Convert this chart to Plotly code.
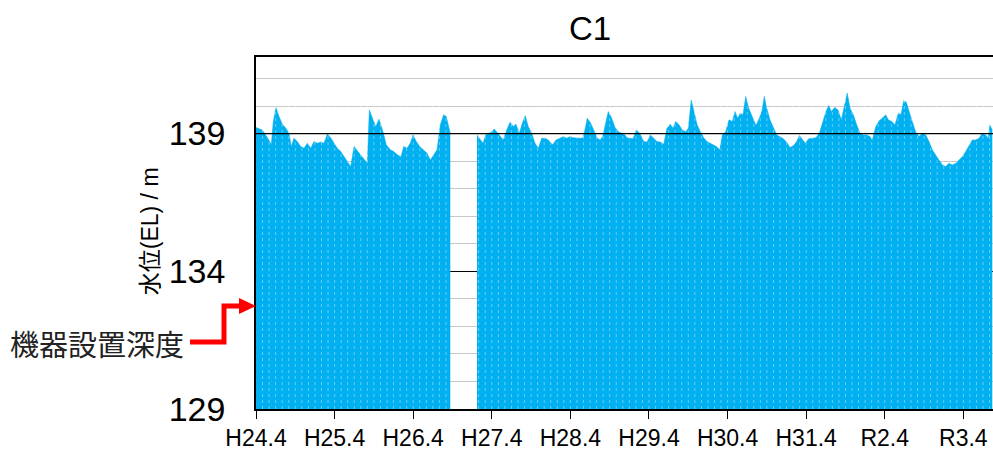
import plotly.graph_objects as go

# ---- data (decimal year, water level EL m) ----
seg1_t = [2012.250, 2012.288, 2012.330, 2012.373, 2012.415, 2012.445, 2012.470, 2012.504, 2012.543, 2012.585,
          2012.628, 2012.670, 2012.699, 2012.733, 2012.775, 2012.819, 2012.861, 2012.903, 2012.946, 2012.988,
          2013.030, 2013.073, 2013.115, 2013.157, 2013.200, 2013.242, 2013.284, 2013.328, 2013.370, 2013.412,
          2013.455, 2013.497, 2013.539, 2013.582, 2013.624, 2013.666, 2013.692, 2013.730, 2013.773, 2013.815,
          2013.866, 2013.908, 2013.959, 2014.002, 2014.053, 2014.095, 2014.129, 2014.171, 2014.213, 2014.248,
          2014.290, 2014.333, 2014.384, 2014.426, 2014.468, 2014.511, 2014.553, 2014.595, 2014.638, 2014.671,
          2014.702, 2014.722]
seg1_v = [139.22, 139.19, 139.13, 138.95, 138.73, 138.61, 139.44, 139.95, 139.62, 139.34,
          139.20, 139.01, 138.53, 138.83, 138.71, 138.53, 138.47, 138.65, 138.47, 138.71,
          138.65, 138.69, 138.65, 138.98, 138.85, 138.65, 138.47, 138.35, 138.16, 137.96,
          137.80, 138.53, 138.37, 138.22, 138.08, 137.92, 139.86, 139.56, 139.25, 139.52,
          139.07, 138.59, 138.41, 138.35, 138.22, 138.16, 138.53, 138.47, 138.65, 138.95,
          138.71, 138.53, 138.41, 138.29, 138.04, 138.22, 138.41, 139.32, 139.68, 139.62,
          139.19, 139.01]

seg2_t = [2015.062, 2015.104, 2015.138, 2015.172, 2015.211, 2015.253, 2015.282, 2015.325, 2015.367, 2015.396,
          2015.440, 2015.482, 2015.524, 2015.558, 2015.600, 2015.634, 2015.676, 2015.714, 2015.758, 2015.800,
          2015.842, 2015.885, 2015.927, 2015.969, 2016.025, 2016.067, 2016.118, 2016.160, 2016.203, 2016.245,
          2016.287, 2016.330, 2016.372, 2016.414, 2016.465, 2016.508, 2016.550, 2016.592, 2016.627, 2016.661,
          2016.703, 2016.732, 2016.776, 2016.818, 2016.860, 2016.903, 2016.945, 2016.970, 2017.012, 2017.047,
          2017.089, 2017.132, 2017.183, 2017.225, 2017.267, 2017.310, 2017.352, 2017.394, 2017.437, 2017.479,
          2017.521, 2017.555, 2017.590, 2017.632, 2017.674, 2017.717, 2017.750, 2017.788, 2017.819, 2017.861,
          2017.903, 2017.946, 2017.988, 2018.030, 2018.064, 2018.107, 2018.150, 2018.183, 2018.226, 2018.268,
          2018.310, 2018.344, 2018.379, 2018.412, 2018.446, 2018.481, 2018.519, 2018.561, 2018.612, 2018.654,
          2018.688, 2018.717, 2018.748, 2018.790, 2018.832, 2018.875, 2018.917, 2018.959, 2019.002, 2019.044,
          2019.086, 2019.129, 2019.163, 2019.197, 2019.239, 2019.282, 2019.324, 2019.375, 2019.417, 2019.460,
          2019.502, 2019.537, 2019.570, 2019.613, 2019.655, 2019.697, 2019.740, 2019.773, 2019.808, 2019.850,
          2019.893, 2019.935, 2019.977, 2020.020, 2020.062, 2020.091, 2020.135, 2020.177, 2020.218, 2020.262,
          2020.295, 2020.338, 2020.380, 2020.422, 2020.456, 2020.491, 2020.524, 2020.558, 2020.600, 2020.643,
          2020.685, 2020.728, 2020.771, 2020.813, 2020.855, 2020.898, 2020.940, 2020.982, 2021.025, 2021.067,
          2021.109, 2021.152, 2021.194, 2021.236, 2021.280, 2021.322, 2021.364, 2021.407, 2021.449, 2021.491,
          2021.534, 2021.567, 2021.585, 2021.618]
seg2_v = [138.95, 138.77, 138.65, 138.95, 139.01, 139.07, 139.17, 139.01, 138.89, 138.77,
          139.13, 139.41, 139.26, 139.34, 139.01, 139.34, 139.65, 139.26, 139.01, 138.65,
          138.47, 138.83, 138.83, 138.77, 138.59, 138.77, 138.83, 138.89, 138.83, 138.89,
          138.85, 138.83, 138.83, 138.85, 139.56, 139.38, 139.07, 138.83, 138.77, 138.89,
          139.44, 139.80, 139.56, 139.22, 139.07, 139.01, 138.95, 138.85, 138.83, 138.81,
          139.13, 139.01, 138.71, 138.69, 138.95, 138.83, 138.71, 138.69, 138.61, 139.19,
          139.34, 139.19, 139.44, 139.32, 139.13, 139.07, 139.19, 140.22, 139.80, 139.34,
          139.07, 138.85, 138.71, 138.65, 138.59, 138.53, 138.41, 138.95, 139.07, 139.50,
          139.44, 139.80, 139.56, 139.74, 139.68, 140.35, 139.92, 139.62, 139.29, 139.56,
          139.83, 140.35, 139.92, 139.50, 139.25, 138.95, 138.89, 138.81, 138.69, 138.49,
          138.56, 138.71, 138.93, 138.81, 138.65, 138.81, 138.83, 138.85, 139.01, 139.44,
          139.80, 140.02, 139.80, 139.95, 139.86, 139.50, 140.04, 140.47, 139.92, 139.68,
          139.32, 139.01, 138.95, 138.95, 138.89, 138.77, 139.25, 139.46, 139.56, 139.68,
          139.50, 139.44, 139.32, 139.74, 139.68, 140.19, 140.14, 139.80, 139.44, 139.07,
          138.89, 139.01, 138.95, 138.71, 138.41, 138.22, 138.04, 137.86, 137.80, 137.92,
          137.86, 137.92, 138.04, 138.16, 138.35, 138.59, 138.77, 138.77, 138.83, 139.01,
          138.95, 138.83, 139.32, 139.13]

tick_vals = [2012.25, 2013.25, 2014.25, 2015.25, 2016.25, 2017.25, 2018.25, 2019.25, 2020.25, 2021.25]
tick_text = ["H24.4", "H25.4", "H26.4", "H27.4", "H28.4", "H29.4", "H30.4", "H31.4", "R2.4", "R3.4"]
y_ticks = [129, 134, 139]
ref_level = 139

X_RANGE = [2012.25, 2021.627]
Y_RANGE = [129, 141.78]

W, H = 993, 450
ML, MR, MT, MB = 256, 0, 57, 41
PW, PH = W - ML - MR, H - MT - MB

def px(xp):
    return (xp - ML) / PW

def py(yp):
    return (H - MB - yp) / PH

BLUE = "#00B0F0"

fig = go.Figure()
for ts, vs in ((seg1_t, seg1_v), (seg2_t, seg2_v)):
    fig.add_trace(go.Scatter(x=ts, y=vs, mode="lines", fill="tozeroy", fillcolor=BLUE,
                             line=dict(color=BLUE, width=0.5),
                             hoverinfo="skip", showlegend=False))

# faint monthly stripes over the filled area (white: invisible on the white background)
sx, sy = [], []
k = 1
while True:
    t = X_RANGE[0] + k / 12.0
    if t >= X_RANGE[1]:
        break
    if (seg1_t[0] < t < seg1_t[-1]) or (seg2_t[0] < t < seg2_t[-1]):
        sx += [t, t, None]
        sy += [Y_RANGE[0], 140.6, None]
    k += 1
fig.add_trace(go.Scatter(x=sx, y=sy, mode="lines",
                         line=dict(color="rgba(255,255,255,0.4)", width=1, dash="dot"),
                         hoverinfo="skip", showlegend=False))

fig.add_shape(type="line", xref="paper", yref="y", x0=0, x1=1, y0=ref_level, y1=ref_level,
              line=dict(color="black", width=1.2), layer="above")

# red elbow arrow to the device depth
RED = "#FF0000"
fig.add_shape(type="path", xref="paper", yref="paper",
              path=f"M {px(190)} {py(342)} L {px(224)} {py(342)} L {px(224)} {py(306)} L {px(242)} {py(306)}",
              line=dict(color=RED, width=5))
fig.add_shape(type="path", xref="paper", yref="paper",
              path=f"M {px(256)} {py(306)} L {px(239)} {py(298)} L {px(239)} {py(314)} Z",
              fillcolor=RED, line=dict(color=RED, width=0))

fig.add_annotation(text="機器設置深度", xref="paper", yref="paper", x=px(97), y=py(343),
                   showarrow=False, xanchor="center", yanchor="middle",
                   font=dict(family="Noto Sans CJK JP", size=29, color="#222222"))
fig.add_annotation(text="水位(EL) / m", xref="paper", yref="paper", x=px(150), y=0.505,
                   showarrow=False, textangle=-90, xanchor="center", yanchor="middle",
                   font=dict(family="Liberation Sans, Noto Sans CJK JP", size=23, color="black"))

fig.update_layout(
    width=W, height=H, autosize=False,
    margin=dict(l=ML, r=MR, t=MT, b=MB, pad=0),
    paper_bgcolor="white", plot_bgcolor="white",
    title=dict(text="C1", x=590 / W, xanchor="center", y=1 - 28 / H, yanchor="middle",
               font=dict(family="Liberation Sans, Arial", size=33, color="black")),
    font=dict(family="Liberation Sans, Arial", color="black"),
    xaxis=dict(range=X_RANGE, tickmode="array", tickvals=tick_vals, ticktext=tick_text,
               showgrid=False, zeroline=False, showline=True, linecolor="black", linewidth=1.5,
               mirror=True, ticks="outside", ticklen=8, tickcolor="black", tickwidth=1,
               tickfont=dict(size=23, color="black")),
    yaxis=dict(range=Y_RANGE, tickmode="array", tickvals=y_ticks,
               showgrid=True, gridcolor="black", gridwidth=1, zeroline=False,
               showline=True, linecolor="black", linewidth=1.5,
               ticks="outside", ticklen=0, ticklabelstandoff=22,
               tickfont=dict(size=34, color="black"),
               minor=dict(dtick=1, tick0=129, showgrid=True, gridcolor="#c8c8c8", gridwidth=1)),
)

fig.write_html("out.html", config={"displayModeBar": False},
               post_script="document.body.style.margin='0';document.body.style.overflow='hidden';")
